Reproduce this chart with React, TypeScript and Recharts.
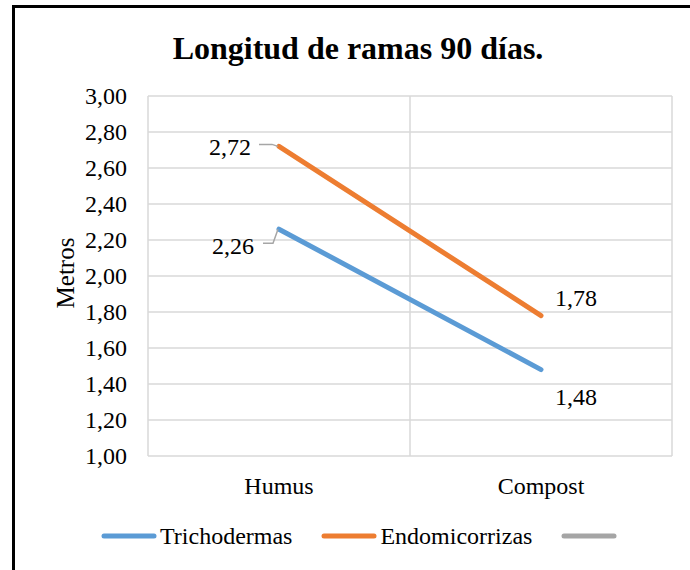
import React from "react";
import {
  LineChart,
  Line,
  XAxis,
  YAxis,
  CartesianGrid,
  LabelList,
} from "recharts";

const categories = ["Humus", "Compost"];
const trichodermas = [2.26, 1.48];
const endomicorrizas = [2.72, 1.78];
const yTicks = [1, 1.2, 1.4, 1.6, 1.8, 2, 2.2, 2.4, 2.6, 2.8, 3];

const seriesNames = ["Trichodermas", "Endomicorrizas", ""];
const COLORS = ["#5B9BD5", "#ED7D31", "#A5A5A5"];

const FONT = "Liberation Serif, Times New Roman, serif";
const FS = 24;

const data = categories.map((category, i) => ({
  category,
  Trichodermas: trichodermas[i],
  Endomicorrizas: endomicorrizas[i],
  Serie3: null as number | null,
}));

const fmt = (v: number) => v.toFixed(2).replace(".", ",");

const XTick = (props: any) => {
  const { x, y, payload } = props;
  return (
    <text
      x={x}
      y={y}
      textAnchor="middle"
      dominantBaseline="central"
      fontFamily={FONT}
      fontSize={FS}
      fill="#000"
    >
      {payload.value}
    </text>
  );
};

const YTick = (props: any) => {
  const { x, y, payload } = props;
  return (
    <text
      x={x}
      y={y}
      textAnchor="end"
      dominantBaseline="central"
      fontFamily={FONT}
      fontSize={FS}
      fill="#000"
    >
      {fmt(payload.value)}
    </text>
  );
};

// labels: first point sits left with a leader line, second one to the right
const makeLabel = (above: boolean) => (props: any) => {
  const { x, y, value, index } = props;
  if (value == null) return null;
  const text = fmt(Number(value));
  if (index === 0) {
    const ly = above ? y - 2 : y + 14;
    const lead = above
      ? `M${x - 20},${ly} L${x - 7},${ly} L${x - 1},${y}`
      : `M${x - 16},${ly} L${x - 6},${ly} L${x - 1},${y}`;
    return (
      <g>
        <path d={lead} stroke="#A6A6A6" strokeWidth={1.5} fill="none" />
        <text
          x={above ? x - 28 : x - 25}
          y={above ? y + 1 : y + 17}
          textAnchor="end"
          dominantBaseline="central"
          fontFamily={FONT}
          fontSize={FS}
          fill="#000"
        >
          {text}
        </text>
      </g>
    );
  }
  return (
    <text
      x={x + 35}
      y={above ? y - 18 : y + 27}
      textAnchor="middle"
      dominantBaseline="central"
      fontFamily={FONT}
      fontSize={FS}
      fill="#000"
    >
      {text}
    </text>
  );
};

export default function App() {
  return (
    <div
      style={{
        position: "absolute",
        left: 0,
        top: 0,
        width: 690,
        height: 570,
        background: "#fff",
        overflow: "hidden",
        fontFamily: FONT,
      }}
    >
      <div
        style={{
          position: "absolute",
          left: 12,
          top: 5,
          width: 678,
          height: 565,
          borderLeft: "3px solid #000",
          borderTop: "3px solid #000",
          boxSizing: "border-box",
        }}
      />
      <div
        style={{
          position: "absolute",
          left: 0,
          width: 716,
          top: 28,
          textAlign: "center",
          fontSize: 32,
          fontWeight: "bold",
          color: "#000",
          lineHeight: "40px",
        }}
      >
        Longitud de ramas 90 días.
      </div>

      <LineChart
        width={690}
        height={570}
        data={data}
        margin={{ top: 96, right: 18, bottom: 84, left: 88 }}
      >
        <CartesianGrid
          stroke="#D9D9D9"
          strokeWidth={1.5}
          verticalCoordinatesGenerator={({ offset }: any) => [
            offset.left,
            offset.left + offset.width / 2,
            offset.left + offset.width,
          ]}
        />
        <XAxis
          dataKey="category"
          scale="band"
          height={30}
          axisLine={false}
          tickLine={false}
          tickSize={0}
          tickMargin={30}
          tick={<XTick />}
        />
        <YAxis
          width={60}
          domain={[1, 3]}
          ticks={yTicks}
          axisLine={false}
          tickLine={false}
          tickSize={0}
          tickMargin={21}
          tick={<YTick />}
          label={{
            content: () => (
              <text
                x={65}
                y={273}
                transform="rotate(-90 65 273)"
                textAnchor="middle"
                dominantBaseline="central"
                fontFamily={FONT}
                fontSize={25}
                fill="#000"
              >
                Metros
              </text>
            ),
          }}
        />
        <Line
          dataKey="Trichodermas"
          stroke={COLORS[0]}
          strokeWidth={5}
          strokeLinecap="round"
          dot={false}
          activeDot={false}
          isAnimationActive={false}
        >
          <LabelList dataKey="Trichodermas" content={makeLabel(false)} />
        </Line>
        <Line
          dataKey="Endomicorrizas"
          stroke={COLORS[1]}
          strokeWidth={5}
          strokeLinecap="round"
          dot={false}
          activeDot={false}
          isAnimationActive={false}
        >
          <LabelList dataKey="Endomicorrizas" content={makeLabel(true)} />
        </Line>
        <Line
          dataKey="Serie3"
          stroke={COLORS[2]}
          strokeWidth={5}
          dot={false}
          activeDot={false}
          isAnimationActive={false}
        />
      </LineChart>

      <div
        style={{
          position: "absolute",
          left: 101,
          top: 520,
          display: "flex",
          alignItems: "center",
          fontSize: FS,
          color: "#000",
          whiteSpace: "nowrap",
        }}
      >
        {seriesNames.map((name, i) => (
          <div
            key={i}
            style={{ display: "flex", alignItems: "center", marginRight: 29 }}
          >
            <svg width={56} height={10}>
              <line
                x1={3}
                y1={5}
                x2={53}
                y2={5}
                stroke={COLORS[i]}
                strokeWidth={5}
                strokeLinecap="round"
              />
            </svg>
            <span style={{ marginLeft: 3, lineHeight: "32px" }}>{name}</span>
          </div>
        ))}
      </div>
    </div>
  );
}
